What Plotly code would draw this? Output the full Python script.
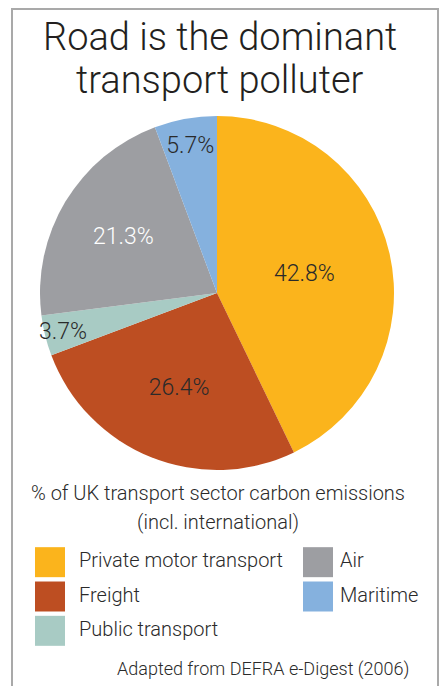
import plotly.graph_objects as go

# ---- data ----
categories = ["Private motor transport", "Freight", "Public transport", "Air", "Maritime"]
shares = [42.8, 26.4, 3.7, 21.3, 5.7]
colors = ["#FBB41C", "#BD4E22", "#A8CBC4", "#9D9EA2", "#85B1DE"]
label_colors = ["#2a2a2a", "#2a2a2a", "#2a2a2a", "#ffffff", "#2a2a2a"]

title_lines = ["Road is the dominant", "transport polluter"]
subtitle_lines = ["% of UK transport sector carbon emissions", "(incl. international)"]
source_text = "Adapted from DEFRA e-Digest (2006)"

W, H = 442, 686
FONT = "Roboto"
TXT = "#2a2a2a"
UNIT = 268  # px per legend column


def py(p):
    return 1 - p / H


def px(p):
    return p / W


fig = go.Figure()

fig.add_trace(go.Pie(
    labels=categories,
    values=shares,
    sort=False,
    direction="clockwise",
    rotation=0,
    marker=dict(colors=colors, line=dict(width=0)),
    texttemplate="%{value:.1f}%",
    textposition="inside",
    insidetextorientation="horizontal",
    textfont=dict(family=FONT, size=23, color=label_colors, weight=300),
    hoverinfo="label+percent",
    showlegend=False,
    domain=dict(x=[px(40), px(394)], y=[py(470), py(116)]),
))

# legend as grid of square markers: column-major, 3 rows per column
rows = 3
leg_x = [i // rows for i in range(len(categories))]
leg_y = [i % rows for i in range(len(categories))]
fig.add_trace(go.Scatter(
    x=leg_x, y=leg_y,
    mode="markers",
    marker=dict(symbol="square", size=30, color=colors, line=dict(width=0)),
    hoverinfo="skip",
    showlegend=False,
    cliponaxis=False,
))
text_x = [c + (29 if c == 0 else 22) / UNIT for c in leg_x]
fig.add_trace(go.Scatter(
    x=text_x, y=leg_y,
    mode="text",
    text=categories,
    textposition="middle right",
    textfont=dict(family=FONT, size=20, color=TXT, weight=300),
    hoverinfo="skip",
    showlegend=False,
    cliponaxis=False,
))

fig.update_xaxes(visible=False, range=[-50 / UNIT, (W - 50) / UNIT], domain=[0, 1], fixedrange=True)
fig.update_yaxes(visible=False, range=[2.5, -0.5], domain=[py(648), py(545)], fixedrange=True)

annotations = []
for i, t in enumerate(title_lines):
    annotations.append(dict(text=t, x=px(220), y=py(37 + 43 * i), xref="paper", yref="paper",
                            showarrow=False, xanchor="center", yanchor="middle",
                            font=dict(family=FONT, size=38, color="#231f20", weight=300)))
for i, t in enumerate(subtitle_lines):
    annotations.append(dict(text=t, x=px(218), y=py(493 + 29 * i), xref="paper", yref="paper",
                            showarrow=False, xanchor="center", yanchor="middle",
                            font=dict(family=FONT, size=20, color=TXT, weight=300)))
annotations.append(dict(text=source_text, x=px(411), y=py(669), xref="paper", yref="paper",
                        showarrow=False, xanchor="right", yanchor="middle",
                        font=dict(family=FONT, size=18, color=TXT, weight=300)))

fig.update_layout(
    width=W, height=H,
    margin=dict(l=0, r=0, t=0, b=0),
    paper_bgcolor="white",
    plot_bgcolor="rgba(0,0,0,0)",
    annotations=annotations,
    uniformtext=dict(minsize=23, mode="show"),
    shapes=[dict(type="rect", xref="paper", yref="paper",
                 x0=px(12), x1=px(438), y0=py(700), y1=py(9),
                 line=dict(color="#a9a9a9", width=2), fillcolor="rgba(0,0,0,0)", layer="below")],
)

fig.write_html("out.html", config={"displayModeBar": False},
               post_script="document.body.style.margin='0';document.body.style.overflow='hidden';")
